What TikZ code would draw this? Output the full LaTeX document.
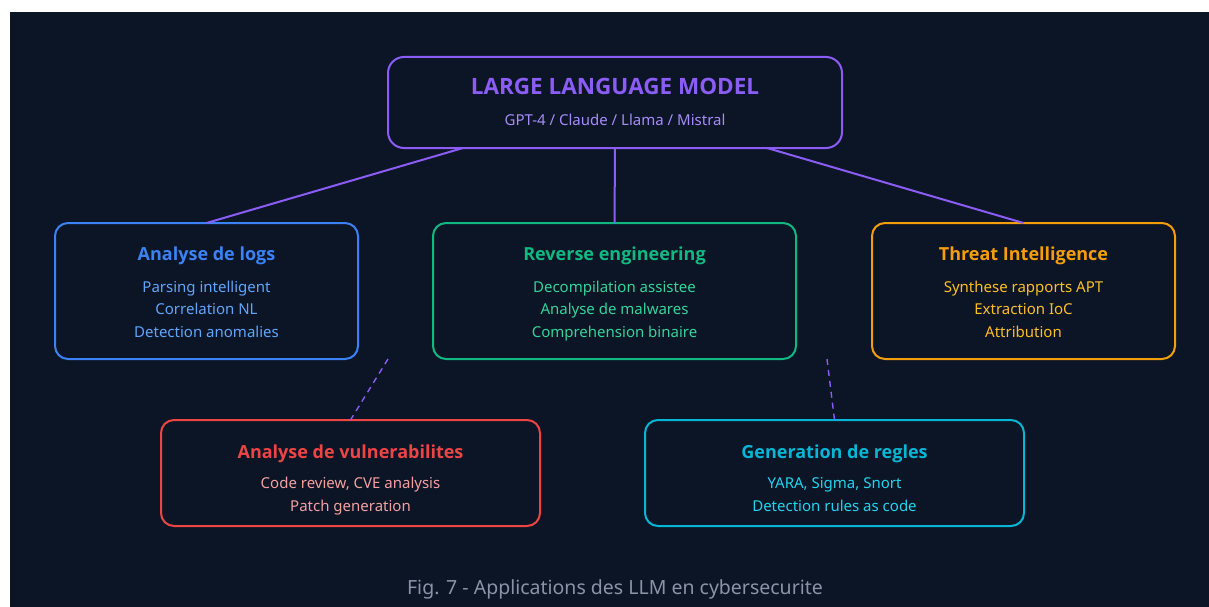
\documentclass[tikz,border=0pt]{standalone}
\usepackage{fontspec}
\setmainfont{Noto Sans}
\newfontfamily\headfont{Open Sans}
\definecolor{bg}{HTML}{0B1526}
\definecolor{violet}{HTML}{8B5CF6}
\definecolor{violetlt}{HTML}{A78BFA}
\definecolor{blue}{HTML}{3B82F6}
\definecolor{bluelt}{HTML}{60A5FA}
\definecolor{green}{HTML}{10B981}
\definecolor{greenlt}{HTML}{34D399}
\definecolor{orange}{HTML}{F59E0B}
\definecolor{orangelt}{HTML}{FBBF24}
\definecolor{red}{HTML}{EF4444}
\definecolor{redlt}{HTML}{F4A0A0}
\definecolor{cyan}{HTML}{06B6D4}
\definecolor{cyanlt}{HTML}{22D3EE}
\definecolor{captiongray}{HTML}{8A94A6}
\tikzset{
  box/.style={draw=#1, line width=2pt, rounded corners=13pt, fill=bg,
    inner sep=0pt, outer sep=0pt},
  ttl/.style={anchor=base, inner sep=0pt, text=#1, font=\headfont\fontsize{18}{21}\selectfont\bfseries},
  item/.style={anchor=base, inner sep=0pt, text=#1, font=\fontsize{15}{18}\selectfont},
  link/.style={draw=violet, line width=2pt},
  dlink/.style={draw=violet, line width=1.4pt, dash pattern=on 6pt off 5pt},
}
\begin{document}
\begin{tikzpicture}[x=1pt, y=-1pt]
  \useasboundingbox (0,0) rectangle (1209,607);
  \fill[white] (0,0) rectangle (1209,607);
  \fill[bg] (10,12) rectangle (1209,607);

  % central model
  \node[box=violet, rounded corners=16pt, minimum width=454pt, minimum height=91pt] (llm) at (615,102.5) {};
  \node[anchor=base, inner sep=0pt, text=violet, font=\headfont\fontsize{22.5}{26}\selectfont\bfseries] (llmt) at (615,94.5) {LARGE LANGUAGE MODEL};
  \node[item=violetlt] (llms) at (615,125) {GPT-4 / Claude / Llama / Mistral};

  % first row
  \node[box=blue, minimum width=303pt, minimum height=136pt] (logs) at (206.5,291) {};
  \node[ttl=blue] at (206.5,260.5) {Analyse de logs};
  \node[item=bluelt] at (206.5,292.3) {Parsing intelligent};
  \node[item=bluelt] at (206.5,314.8) {Correlation NL};
  \node[item=bluelt] at (206.5,337.3) {Detection anomalies};

  \node[box=green, minimum width=363pt, minimum height=136pt] (rev) at (614.5,291) {};
  \node[ttl=green] at (614.5,260.5) {Reverse engineering};
  \node[item=greenlt] at (614.5,292.3) {Decompilation assistee};
  \node[item=greenlt] at (614.5,314.8) {Analyse de malwares};
  \node[item=greenlt] at (614.5,337.3) {Comprehension binaire};

  \node[box=orange, minimum width=303pt, minimum height=136pt] (cti) at (1023.5,291) {};
  \node[ttl=orange] at (1023.5,260.5) {Threat Intelligence};
  \node[item=orangelt] at (1023.5,292.3) {Synthese rapports APT};
  \node[item=orangelt] at (1023.5,314.8) {Extraction IoC};
  \node[item=orangelt] at (1023.5,337.3) {Attribution};

  % second row
  \node[box=red, minimum width=379pt, minimum height=106pt] (vuln) at (350.5,473) {};
  \node[ttl=red] at (350.5,458.5) {Analyse de vulnerabilites};
  \node[item=redlt] at (350.5,488.3) {Code review, CVE analysis};
  \node[item=redlt] at (350.5,511) {Patch generation};

  \node[box=cyan, minimum width=379pt, minimum height=106pt] (gen) at (834.5,473) {};
  \node[ttl=cyan] at (834.5,458.5) {Generation de regles};
  \node[item=cyanlt] at (834.5,488.3) {YARA, Sigma, Snort};
  \node[item=cyanlt] at (834.5,511) {Detection rules as code};

  % connectors
  \path[link] (llm.south -| 463,0) -- (logs.north);
  \path[link] (llm.south) -- (rev.north);
  \path[link] (llm.south -| 767,0) -- (cti.north);

  \coordinate (vtop) at (388,359);
  \coordinate (gtop) at (827,359);
  \path[dlink] (vtop) -- (vuln.north);
  \path[dlink] (gtop) -- (gen.north);

  % caption
  \node[anchor=base, inner sep=0pt, text=captiongray, font=\fontsize{19.5}{23}\selectfont] (cap) at (615,594.3) {Fig. 7 - Applications des LLM en cybersecurite};
\end{tikzpicture}
\end{document}
